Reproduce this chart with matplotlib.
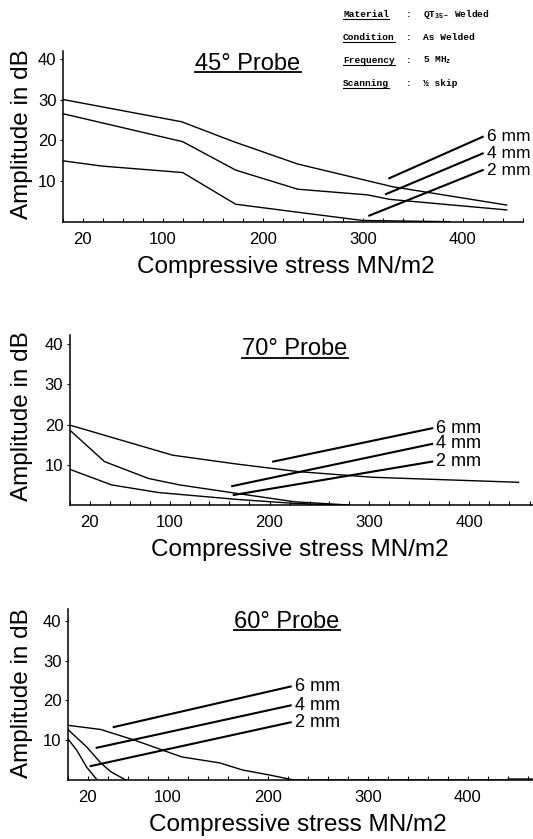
import matplotlib
matplotlib.use("Agg")
import matplotlib.pyplot as plt
from matplotlib.lines import Line2D
from matplotlib.ticker import MultipleLocator

plt.rcParams['font.family'] = ['Liberation Sans', 'DejaVu Sans']
plt.rcParams['mathtext.fontset'] = 'custom'
plt.rcParams['mathtext.rm'] = 'Liberation Mono:bold'
plt.rcParams['mathtext.it'] = 'Liberation Mono:bold'

# ---------------- data ----------------
x_ticks = [20, 100, 200, 300, 400]
y_ticks = [10, 20, 30, 40]
defect_sizes = ["6 mm", "4 mm", "2 mm"]

# 45 degree probe
p45_stress_6 = [0, 119, 171, 235, 330, 444]
p45_amp_6 = [30.1, 24.6, 19.7, 14.2, 8.6, 4.1]
p45_stress_4 = [0, 120, 173, 235, 305, 327, 444]
p45_amp_4 = [26.6, 19.7, 12.7, 8.0, 6.6, 5.5, 2.9]
p45_stress_2 = [0, 39, 120, 173, 236, 300, 387]
p45_amp_2 = [15.0, 13.7, 12.1, 4.3, 2.3, 0.3, 0.0]

# 70 degree probe
p70_stress_6 = [0, 103, 167, 229, 303, 449]
p70_amp_6 = [19.9, 12.4, 10.2, 8.3, 6.9, 5.65]
p70_stress_4 = [0, 35, 79, 110, 167, 225, 279]
p70_amp_4 = [18.7, 10.8, 6.6, 5.0, 2.9, 0.8, 0.0]
p70_stress_2 = [0, 42, 89, 167, 225, 269]
p70_amp_2 = [8.9, 5.0, 3.1, 1.4, 0.4, 0.0]

# 60 degree probe
p60_stress_6 = [0, 33, 67, 114, 152, 175, 202, 226, 438, 441, 465]
p60_amp_6 = [13.75, 12.7, 10.0, 5.8, 4.3, 2.5, 1.25, 0.0, 0.0, 0.25, 0.25]
p60_stress_4 = [0, 19, 33, 43, 58]
p60_amp_4 = [12.75, 8.3, 4.3, 2.1, 0.0]
p60_stress_2 = [0, 9, 19, 29.5]
p60_amp_2 = [10.4, 7.5, 3.2, 0.0]

header_keys = ["Material", "Condition", "Frequency", "Scanning"]
header_values = [r"QT$_{35-}$ Welded", "As Welded", r"5 MH$_{z}$", "½ skip"]

# ---------------- layout ----------------
W, H = 533, 839
fig = plt.figure(figsize=(W / 100, H / 100), dpi=100)


def px_rect(left, right, top, bottom):
    return [left / W, 1 - bottom / H, (right - left) / W, (bottom - top) / H]


def fxy(x, y):
    return x / W, 1 - y / H


def underline(text_artist, y_px, lw=1.2):
    """Draw a rule under a text, at y_px pixels from the top of the figure."""
    fig.canvas.draw()
    bb = text_artist.get_window_extent()
    inv = fig.transFigure.inverted()
    y_disp = H - y_px
    (x0, yy), (x1, _) = inv.transform([(bb.x0, y_disp), (bb.x1, y_disp)])
    fig.add_artist(Line2D([x0, x1], [yy, yy], transform=fig.transFigure,
                          color="black", lw=lw))


panels = [
    dict(title="45° Probe", title_x=248, title_base=69.5, title_rule=71.5,
         box=(62.7, 523, 50.7, 221.7), xmax=460.3, ymax=42.1,
         series=[(p45_stress_6, p45_amp_6), (p45_stress_4, p45_amp_4),
                 (p45_stress_2, p45_amp_2)],
         leaders=[((326.6, 10.7), (420.0, 20.9)),
                  ((323.3, 6.8), (420.0, 16.8)),
                  ((306.6, 1.5), (420.0, 12.7))],
         label_size=12.5,
         xlabel_xy=(286, 267), ylabel_xy=(22, 134)),
    dict(title="70° Probe", title_x=295, title_base=355, title_rule=357.5,
         box=(69.5, 533, 335, 505), xmax=463.5, ymax=42.3,
         series=[(p70_stress_6, p70_amp_6), (p70_stress_4, p70_amp_4),
                 (p70_stress_2, p70_amp_2)],
         leaders=[((203.7, 10.8), (362.7, 19.1)),
                  ((162.7, 4.7), (362.7, 15.2)),
                  ((164.3, 2.5), (362.7, 10.8))],
         label_size=13,
         xlabel_xy=(300, 550), ylabel_xy=(22, 416)),
    dict(title="60° Probe", title_x=287, title_base=627.5, title_rule=630,
         box=(67.7, 533, 609.3, 780), xmax=465.3, ymax=42.9,
         series=[(p60_stress_6, p60_amp_6), (p60_stress_4, p60_amp_4),
                 (p60_stress_2, p60_amp_2)],
         leaders=[((46.0, 13.3), (223.0, 23.5)),
                  ((29.0, 8.1), (223.0, 18.75)),
                  ((23.0, 3.5), (223.0, 14.5))],
         label_size=13,
         xlabel_xy=(298, 825), ylabel_xy=(22, 693)),
]

titles = []
for p in panels:
    left, right, top, bottom = p["box"]
    ax = fig.add_axes(px_rect(left, right, top, bottom))
    for xs, ys in p["series"]:
        ax.plot(xs, ys, color="black", lw=1.0, solid_joinstyle="round")
    ax.set_xlim(0, p["xmax"])
    ax.set_ylim(0, p["ymax"])
    for s in ("top", "right"):
        ax.spines[s].set_visible(False)
    for s in ("left", "bottom"):
        ax.spines[s].set_linewidth(1.1)
    ax.set_xticks(x_ticks)
    ax.xaxis.set_minor_locator(MultipleLocator(20))
    ax.tick_params(axis="x", which="both", direction="in", length=3,
                   width=0.8, labelsize=12, pad=7.5)
    ax.set_yticks(y_ticks)
    ax.tick_params(axis="y", which="both", direction="out", length=2,
                   width=0.8, labelsize=12, pad=2.5)

    for ((x0, y0), (x1, y1)), name in zip(p["leaders"], defect_sizes):
        ax.plot([x0, x1], [y0, y1], color="black", lw=1.5, clip_on=False)
        ax.text(x1 + 4, y1, name, ha="left", va="center",
                fontsize=p["label_size"], clip_on=False)

    ax.set_xlabel("Compressive stress MN/m2", fontsize=17.5, va="center")
    lx, ly = p["xlabel_xy"]
    ax.xaxis.set_label_coords((lx - left) / (right - left),
                              (bottom - ly) / (bottom - top))
    ax.set_ylabel("Amplitude in dB", fontsize=17.5, va="center")
    lx, ly = p["ylabel_xy"]
    ax.yaxis.set_label_coords((lx - left) / (right - left),
                              (bottom - ly) / (bottom - top))

    t = fig.text(*fxy(p["title_x"], p["title_base"]), p["title"],
                 fontsize=17, ha="center", va="baseline")
    titles.append((t, p["title_rule"]))

# material / test conditions block
header_rows_y = [14, 37, 60, 83]
mono = dict(family="Liberation Mono", weight="bold", fontsize=6.8)
key_texts = []
for key, val, y in zip(header_keys, header_values, header_rows_y):
    kt = fig.text(*fxy(343, y + 3), key, ha="left", va="baseline", **mono)
    key_texts.append((kt, y + 5))
    fig.text(*fxy(406, y + 3), ":", ha="left", va="baseline", **mono)
    fig.text(*fxy(423, y + 3), val, ha="left", va="baseline", **mono)

for t, rule_y in titles:
    underline(t, rule_y, lw=1.3)
for kt, rule_y in key_texts:
    underline(kt, rule_y, lw=0.8)

fig.savefig("out.png", dpi=100)
